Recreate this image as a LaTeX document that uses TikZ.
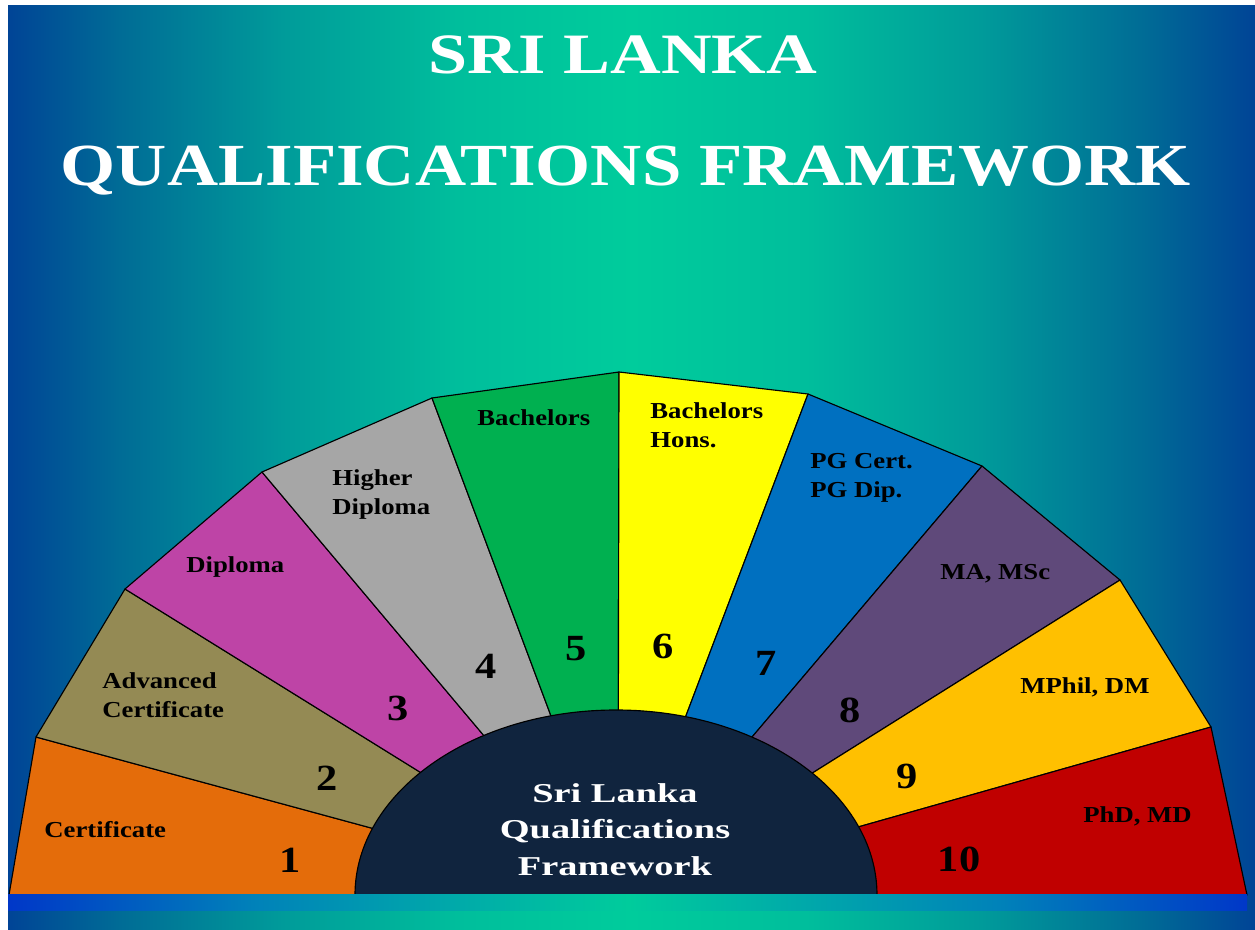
\documentclass[tikz,border=0pt]{standalone}
\usepackage{fontspec}
\setmainfont{Liberation Serif}
\usepackage{graphicx}
\definecolor{bgedge}{RGB}{0,68,150}
\definecolor{bgq1}{RGB}{0,108,150}
\definecolor{bgq2}{RGB}{0,155,154}
\definecolor{bgq3}{RGB}{0,190,156}
\definecolor{bgmid}{RGB}{0,204,156}
\definecolor{stripedge}{RGB}{0,55,200}
\definecolor{stripq}{RGB}{0,130,185}
\definecolor{s1}{RGB}{228,108,10}
\definecolor{s2}{RGB}{148,138,84}
\definecolor{s3}{RGB}{190,68,166}
\definecolor{s4}{RGB}{166,166,166}
\definecolor{s5}{RGB}{0,176,80}
\definecolor{s6}{RGB}{255,255,0}
\definecolor{s7}{RGB}{0,112,192}
\definecolor{s8}{RGB}{95,73,122}
\definecolor{s9}{RGB}{255,192,0}
\definecolor{s10}{RGB}{192,0,0}
\definecolor{hub}{RGB}{16,36,62}
\pgfdeclarehorizontalshading{bgshade}{100bp}{color(0bp)=(bgedge); color(25bp)=(bgedge); color(29.5bp)=(bgq1); color(36bp)=(bgq2); color(43bp)=(bgq3); color(50bp)=(bgmid); color(57bp)=(bgq3); color(64bp)=(bgq2); color(70.5bp)=(bgq1); color(75bp)=(bgedge); color(100bp)=(bgedge)}
\pgfdeclarehorizontalshading{stripshade}{100bp}{color(0bp)=(stripedge); color(25bp)=(stripedge); color(35bp)=(stripq); color(50bp)=(bgmid); color(65bp)=(stripq); color(75bp)=(stripedge); color(100bp)=(stripedge)}
\newcommand\hstretch[2]{\scalebox{#1}[1]{#2}}
\begin{document}
\begin{tikzpicture}[x=0.02cm,y=-0.02cm,
  sector/.style={draw=black, line width=0.65pt, line join=round},
  lbl/.style={anchor=base west, inner sep=0pt, text=black, font=\bfseries\fontsize{13}{17}\selectfont},
  num/.style={anchor=base, inner sep=0pt, text=black, font=\bfseries\fontsize{21}{25}\selectfont},
  title/.style={anchor=base, inner sep=0pt, text=white},
  hubtext/.style={anchor=base, inner sep=0pt, text=white, font=\bfseries\fontsize{15.5}{21}\selectfont}]
\useasboundingbox (0,0) rectangle (1255,930);
\fill[white] (0,0) rectangle (1255,930);
\shade[shading=bgshade] (8,5) rectangle (1255,930);
% titles
\node[title, font=\bfseries\fontsize{32.5}{38}\selectfont] (t1) at (623,73) {\hstretch{1.23}{SRI LANKA}};
\node[title, font=\bfseries\fontsize{34}{40}\selectfont] (t2) at (626,185) {\hstretch{1.186}{QUALIFICATIONS FRAMEWORK}};
% fan
\coordinate (c) at (618,895);
\coordinate (o0) at (9,895);
\coordinate (o1) at (36,737);
\coordinate (o2) at (125,589);
\coordinate (o3) at (262,472);
\coordinate (o4) at (432,398);
\coordinate (o5) at (619,372);
\coordinate (o6) at (808,394);
\coordinate (o7) at (982,466);
\coordinate (o8) at (1120,580);
\coordinate (o9) at (1211,727);
\coordinate (o10) at (1247,895);
\filldraw[sector, fill=s1] (c) -- (o0) -- (o1) -- cycle;
\filldraw[sector, fill=s2] (c) -- (o1) -- (o2) -- cycle;
\filldraw[sector, fill=s3] (c) -- (o2) -- (o3) -- cycle;
\filldraw[sector, fill=s4] (c) -- (o3) -- (o4) -- cycle;
\filldraw[sector, fill=s5] (c) -- (o4) -- (o5) -- cycle;
\filldraw[sector, fill=s6] (c) -- (o5) -- (o6) -- cycle;
\filldraw[sector, fill=s7] (c) -- (o6) -- (o7) -- cycle;
\filldraw[sector, fill=s8] (c) -- (o7) -- (o8) -- cycle;
\filldraw[sector, fill=s9] (c) -- (o8) -- (o9) -- cycle;
\filldraw[sector, fill=s10] (c) -- (o9) -- (o10) -- cycle;
% hub
\begin{scope}
\clip (0,0) rectangle (1255,895);
\filldraw[fill=hub, draw=black, line width=0.65pt] (616,895) ellipse [x radius=261, y radius=185];
\end{scope}
% bottom strip
\shade[shading=stripshade] (8,894) rectangle (1247,910);
% labels
\node[lbl] (l1) at (44,837) {\hstretch{1.17}{Certificate}};
\node[lbl] (l2) at (102,688) {\hstretch{1.17}{\begin{tabular}[t]{@{}l@{}}Advanced\\Certificate\end{tabular}}};
\node[lbl] (l3) at (186,572) {\hstretch{1.17}{Diploma}};
\node[lbl] (l4) at (332,485) {\hstretch{1.17}{\begin{tabular}[t]{@{}l@{}}Higher\\Diploma\end{tabular}}};
\node[lbl] (l5) at (477,425) {\hstretch{1.17}{Bachelors}};
\node[lbl] (l6) at (650,418) {\hstretch{1.17}{\begin{tabular}[t]{@{}l@{}}Bachelors\\Hons.\end{tabular}}};
\node[lbl] (l7) at (810,468) {\hstretch{1.17}{\begin{tabular}[t]{@{}l@{}}PG Cert.\\PG Dip.\end{tabular}}};
\node[lbl] (l8) at (940,579) {\hstretch{1.17}{MA, MSc}};
\node[lbl] (l9) at (1020,693) {\hstretch{1.17}{MPhil, DM}};
\node[lbl] (l10) at (1083,822) {\hstretch{1.17}{PhD, MD}};
% numbers
\node[num] (n1) at (290,872) {\hstretch{1.15}{1}};
\node[num] (n2) at (327,790) {\hstretch{1.15}{2}};
\node[num] (n3) at (398,720) {\hstretch{1.15}{3}};
\node[num] (n4) at (486,678) {\hstretch{1.15}{4}};
\node[num] (n5) at (576,660) {\hstretch{1.15}{5}};
\node[num] (n6) at (663,658) {\hstretch{1.15}{6}};
\node[num] (n7) at (766,675) {\hstretch{1.15}{7}};
\node[num] (n8) at (850,722) {\hstretch{1.15}{8}};
\node[num] (n9) at (907,788) {\hstretch{1.15}{9}};
\node[num] (n10) at (959,871) {\hstretch{1.15}{10}};
% hub text
\node[hubtext] (hub) at (615,802) {\hstretch{1.41}{\begin{tabular}[t]{@{}c@{}}Sri Lanka\\Qualifications\\Framework\end{tabular}}};
\end{tikzpicture}
\end{document}
